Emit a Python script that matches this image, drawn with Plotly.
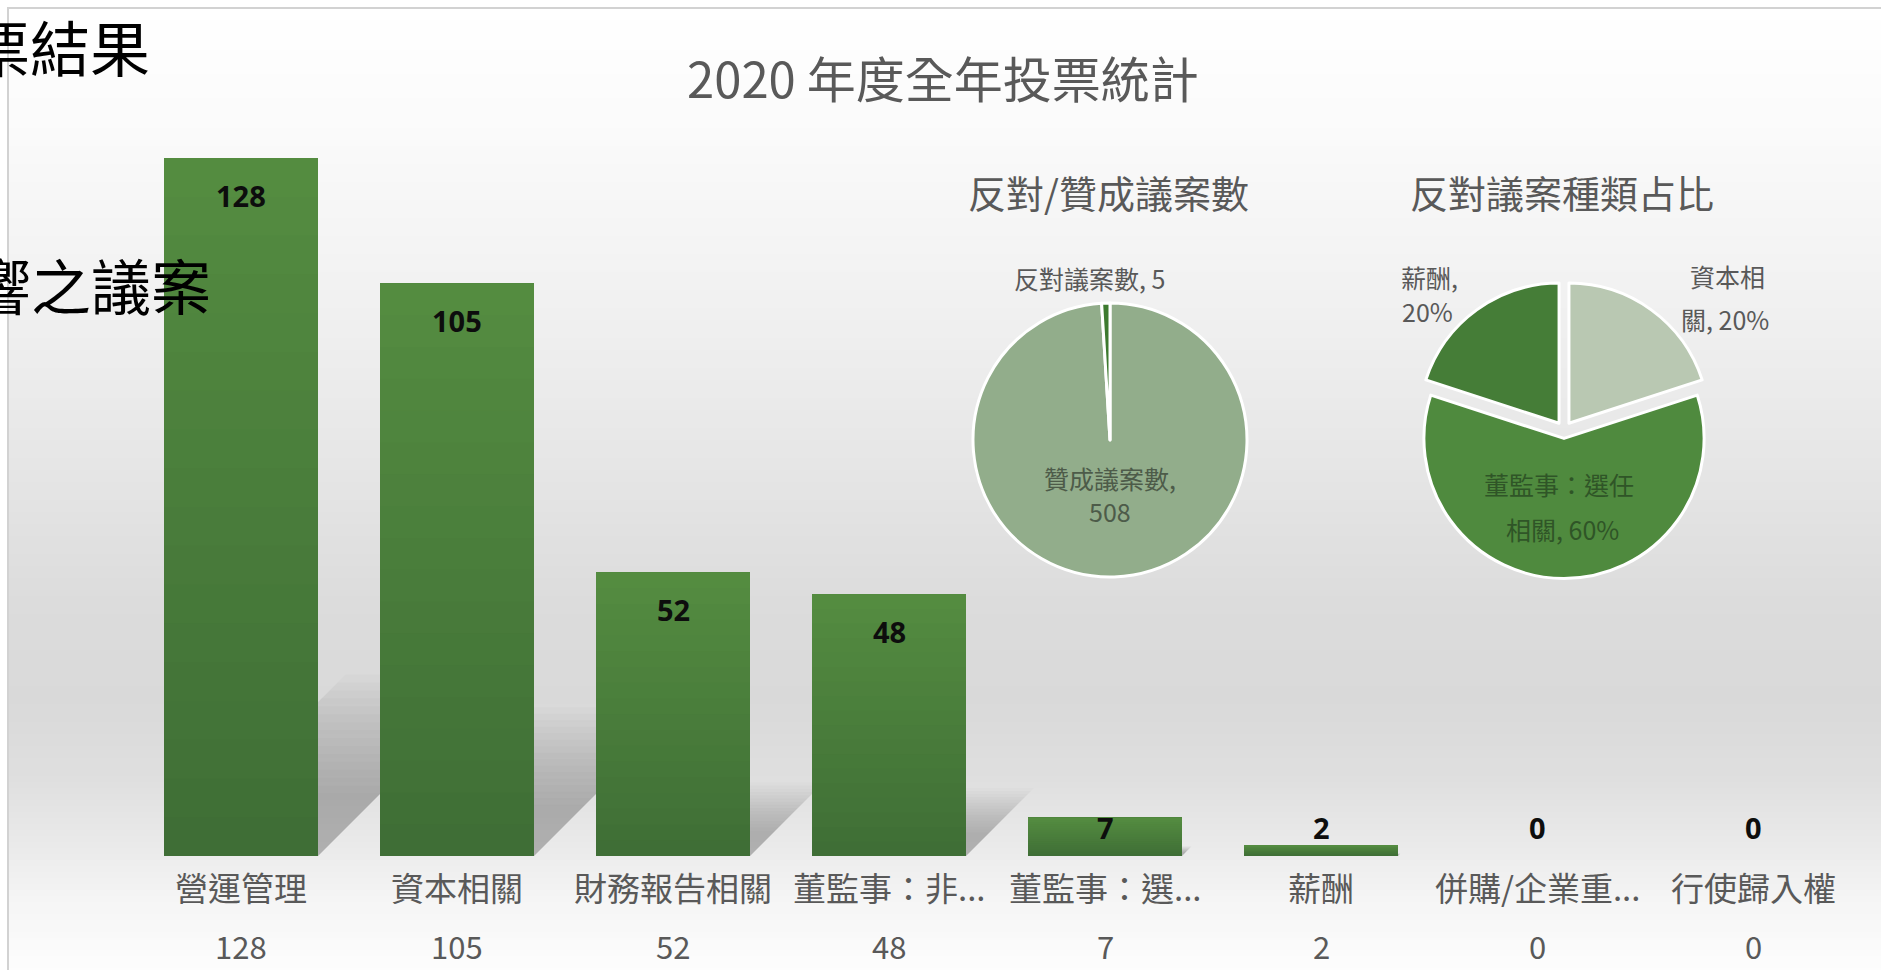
import numpy as np
import plotly.graph_objects as go

# ---------------- data ----------------
categories = ["營運管理", "資本相關", "財務報告相關", "董監事：非...", "董監事：選...",
              "薪酬", "併購/企業重...", "行使歸入權"]
counts = [128, 105, 52, 48, 7, 2, 0, 0]

pie1_labels = ["贊成議案數", "反對議案數"]
pie1_values = [508, 5]

pie2_labels = ["資本相關", "董監事：選任相關", "薪酬"]
pie2_values = [1, 3, 1]

main_title = "2020 年度全年投票統計"
pie1_title = "反對/贊成議案數"
pie2_title = "反對議案種類占比"
slide_texts = ["投票結果", "重大影響之議案"]

# ---------------- layout geometry (pixels) ----------------
W, H = 1881, 970
L, R, T, B = 133, 20, 158, 114
PW, PH = W - L - R, H - T - B
YMAX = 128
FONT = "Noto Sans CJK TC, Noto Sans, sans-serif"
GRAY = "#595959"


def px2x(px):
    return (px - L) / PW


def py2y(py):
    return (H - B - py) / PH


def dom(cx, cy, half):
    return dict(x=[px2x(cx - half), px2x(cx + half)],
                y=[py2y(cy + half), py2y(cy - half)])


fig = go.Figure()

# ---------------- bars (vertical gradient via stacked layers) ----------------
idx = list(range(len(categories)))
NL = 18
bot_rgb = np.array([63, 110, 54])
top_rgb = np.array([85, 141, 65])
bar_w = 154 / (PW / len(categories))
for k in range(NL):
    f = k / NL
    c = bot_rgb + (top_rgb - bot_rgb) * ((k + 0.5) / NL)
    fig.add_trace(go.Bar(
        x=idx, y=[v * (1 - f) for v in counts], base=[v * f for v in counts],
        width=bar_w, marker=dict(color="rgb(%d,%d,%d)" % tuple(c.astype(int)), line=dict(width=0)),
        hoverinfo="skip", showlegend=False))

# ---------------- pies ----------------
fig.add_trace(go.Pie(
    labels=pie1_labels, values=pie1_values, sort=False, direction="clockwise", rotation=0,
    domain=dom(1110, 440, 137), textinfo="none", hoverinfo="skip", showlegend=False,
    marker=dict(colors=["#92ad8b", "#3d7a2f"], line=dict(color="white", width=3))))

fig.add_trace(go.Pie(
    labels=pie2_labels, values=pie2_values, sort=False, direction="clockwise", rotation=0,
    domain=dom(1564, 430, 148.5), textinfo="none", hoverinfo="skip", showlegend=False,
    pull=[0.06] * len(pie2_values),
    marker=dict(colors=["#b9c8b2", "#4f8a3e", "#457d37"], line=dict(color="white", width=3))))

# ---------------- shapes: background gradient, border, bar shadows ----------------
shapes = []
stops_py = [8, 140, 300, 450, 600, 700, 780, 850, 900, 960, 975]
stops_g = [255, 250, 241, 231, 220, 217, 223, 235, 245, 252, 253]
band = 6
for py in range(8, H + band, band):
    g = int(round(np.interp(py + band / 2, stops_py, stops_g)))
    shapes.append(dict(type="rect", xref="paper", yref="paper", layer="below",
                       x0=px2x(9), x1=px2x(W + 10), y0=py2y(py + band + 0.5), y1=py2y(py),
                       fillcolor="rgb(%d,%d,%d)" % (g, g, g), line=dict(width=0)))
shapes.append(dict(type="rect", xref="paper", yref="paper", layer="below",
                   x0=px2x(8), x1=px2x(W + 20), y0=py2y(H + 20), y1=py2y(8),
                   fillcolor="rgba(0,0,0,0)", line=dict(color="#d2d2d2", width=2)))

unit_px = PH / YMAX
cat_px = PW / len(categories)
hw = bar_w / 2
NS = 16
for i, v in zip(idx, counts):
    if v <= 0:
        continue
    for j in range(NS):
        s = 1.0 - 0.7 * j / NS
        h = 0.26 * v * s
        dx = h * unit_px / cat_px
        x0, x1 = i - hw, i + hw
        path = "M %f,0 L %f,0 L %f,%f L %f,%f Z" % (x0, x1, x1 + dx, h, x0 + dx, h)
        shapes.append(dict(type="path", xref="x", yref="y", layer="below", path=path,
                           fillcolor="rgba(0,0,0,0.017)", line=dict(width=0)))

# ---------------- annotations ----------------
ann = []


def text_at(px, py, text, size, color, xanchor="center", family=FONT, weight="normal"):
    return dict(x=px2x(px), y=py2y(py), xref="paper", yref="paper", text=text,
                xanchor=xanchor, yanchor="middle", showarrow=False,
                font=dict(family=family, size=size, color=color, weight=weight))


# bar value labels
for i, v in zip(idx, counts):
    ann.append(dict(x=i, y=max(v, 12), xref="x", yref="y", yshift=-37, text=str(v),
                    xanchor="center", yanchor="middle", showarrow=False,
                    font=dict(family="Noto Sans, sans-serif", size=29,
                              color="#0d0d0d", weight="bold")))
# category labels and data-table row
for i, (c, v) in enumerate(zip(categories, counts)):
    ann.append(dict(x=i, y=py2y(887), xref="x", yref="paper", text=c, showarrow=False,
                    xanchor="center", yanchor="middle",
                    font=dict(family=FONT, size=33, color=GRAY)))
    ann.append(dict(x=i, y=py2y(945), xref="x", yref="paper", text=str(v), showarrow=False,
                    xanchor="center", yanchor="middle",
                    font=dict(family=FONT, size=31, color=GRAY)))

# titles
ann.append(text_at(943, 77, main_title, 49, GRAY))
ann.append(text_at(1108, 191, pie1_title, 38, GRAY))
ann.append(text_at(1562, 191, pie2_title, 38, GRAY))


def split_text(s, at):
    if at is None:
        return [s]
    return [s[:at].strip(), s[at:].strip()]


# pie 1 labels
pie1_wrap = [6, None]
pie1_pos = [[(1110, 478), (1110, 511)], [(1089, 278)]]
pie1_tcol = ["#4d5b49", GRAY]
for lab, val, wr, pos, col in zip(pie1_labels, pie1_values, pie1_wrap, pie1_pos, pie1_tcol):
    for line, (px, py) in zip(split_text("%s, %d" % (lab, val), wr), pos):
        ann.append(text_at(px, py, line, 25, col))

# pie 2 labels
tot2 = sum(pie2_values)
pie2_wrap = [3, 6, 3]
pie2_pos = [[(1727, 276), (1725, 319)], [(1559, 484), (1562, 529)], [(1429, 277), (1427, 311)]]
pie2_tcol = [GRAY, "#2f5527", GRAY]
for lab, val, wr, pos, col in zip(pie2_labels, pie2_values, pie2_wrap, pie2_pos, pie2_tcol):
    txt = "%s, %d%%" % (lab, round(100 * val / tot2))
    for line, (px, py) in zip(split_text(txt, wr), pos):
        ann.append(text_at(px, py, line, 25, col))

# slide text behind the chart (partly cut at the left edge)
ann.append(text_at(152, 45, slide_texts[0], 60, "#000", xanchor="right"))
ann.append(text_at(213, 283, slide_texts[1], 60, "#000", xanchor="right"))

fig.update_layout(
    width=W, height=H, autosize=False,
    margin=dict(l=L, r=R, t=T, b=B, pad=0),
    paper_bgcolor="white", plot_bgcolor="rgba(0,0,0,0)",
    barmode="overlay", showlegend=False,
    xaxis=dict(range=[-0.5, len(categories) - 0.5], visible=False, fixedrange=True),
    yaxis=dict(range=[0, YMAX], visible=False, fixedrange=True),
    shapes=shapes, annotations=ann,
)

fig.write_html("out.html", config={"displayModeBar": False},
               post_script="document.body.style.margin='0px';")
